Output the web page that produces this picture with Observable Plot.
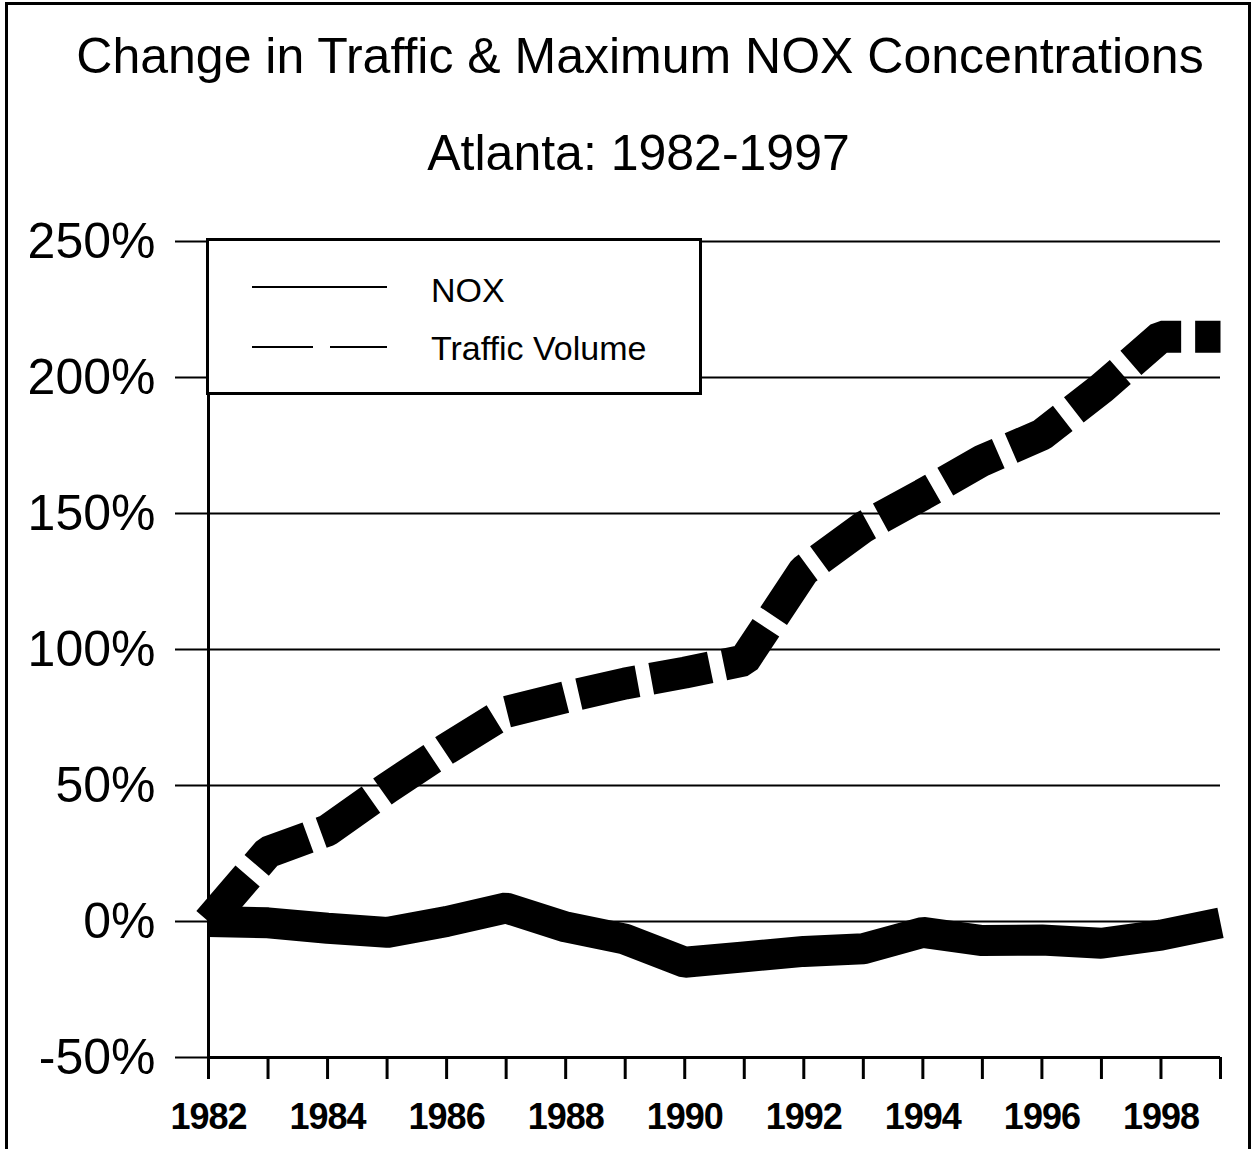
<!DOCTYPE html>
<html>
<head>
<meta charset="utf-8">
<script src="https://cdn.jsdelivr.net/npm/d3@7"></script>
<script src="https://cdn.jsdelivr.net/npm/@observablehq/plot@0.6"></script>
<style>
  html, body { margin: 0; padding: 0; background: white; }
  #wrap { position: relative; width: 1254px; height: 1149px; overflow: hidden; background: white;
          font-family: "Liberation Sans", Arial, sans-serif; color: black; }
  #frame { position: absolute; left: 5px; top: 2px; width: 1240px; height: 1200px;
           border-left: 3px solid black; border-top: 3px solid black; border-right: 3px solid black; }
  .ttl { position: absolute; left: 0; text-align: center; font-size: 50px; line-height: 50px; white-space: nowrap; }
  #chart { position: absolute; left: 0; top: 200px; }
  #legend { position: absolute; left: 206px; top: 238px; width: 490px; height: 151px;
            border: 3px solid black; background: white; }
</style>
</head>
<body>
<div id="wrap">
  <div class="ttl" style="top:31px; width:1280px;">Change in Traffic &amp; Maximum NOX Concentrations</div>
  <div class="ttl" style="top:128px; width:1277px;">Atlanta: 1982-1997</div>
  <div id="chart"></div>
  <div id="legend"></div>
  <div id="frame"></div>
</div>
<script>
// ---- data (percent change) ----
const years = [1982, 1983, 1984, 1985, 1986, 1987, 1988, 1989, 1990, 1991, 1992, 1993, 1994, 1995, 1996, 1997, 1998, 1999];
const noxPct = [0, -0.5, -2.5, -4, 0, 5, -2, -6.5, -15, -13, -11, -10, -4, -7, -6.8, -8, -5, -0.5];
const trafficPct = [0, 25.5, 33.5, 49, 63.5, 77, 82.5, 87.5, 91.5, 96, 129, 145, 157, 169.5, 179, 196, 215, 215];
const yTicks = [-50, 0, 50, 100, 150, 200, 250];
const gridValues = [0, 50, 100, 150, 200, 250];
const xLabelYears = [1982, 1984, 1986, 1988, 1990, 1992, 1994, 1996, 1998];
const seriesNames = ["NOX", "Traffic Volume"];

const noxRows = years.map((yr, i) => ({year: yr, value: noxPct[i]}));
const trafficRows = years.map((yr, i) => ({year: yr, value: trafficPct[i]}));

const chart = Plot.plot({
  width: 1254,
  height: 949,
  marginLeft: 208,
  marginRight: 34,
  marginTop: 41,
  marginBottom: 92,
  x: {domain: [1982, 1999]},
  y: {domain: [-50, 250]},
  style: {fontFamily: "'Liberation Sans', Arial, sans-serif", color: "black", background: "white", overflow: "visible"},
  marks: [
    Plot.ruleY(gridValues, {stroke: "black", strokeWidth: 2}),
    Plot.axisY({
      ticks: yTicks, tickSize: 33, tickPadding: 20, strokeWidth: 2,
      tickFormat: d => d + "%", fontSize: 50, label: null
    }),
    Plot.axisX({
      ticks: years, tickSize: 22, tickPadding: 24, strokeWidth: 3,
      tickFormat: d => xLabelYears.includes(d) ? String(d) : "",
      fontSize: 36, fontWeight: "bold", label: null
    }),
    Plot.ruleY([-50], {stroke: "black", strokeWidth: 3}),
    Plot.ruleX([1982], {stroke: "black", strokeWidth: 3}),
    Plot.line(trafficRows, {
      x: "year", y: "value", stroke: "black", strokeWidth: 32,
      strokeDasharray: "60,14", strokeLinecap: "butt", strokeLinejoin: "miter"
    }),
    Plot.line(noxRows, {
      x: "year", y: "value", stroke: "black", strokeWidth: 31,
      strokeLinecap: "butt", strokeLinejoin: "miter"
    })
  ]
});
chart.querySelectorAll("text").forEach(t => { if (t.closest("g[aria-label='x-axis tick label']")) t.style.letterSpacing = "-1px"; });
document.getElementById("chart").appendChild(chart);

// ---- legend ----
const ns = "http://www.w3.org/2000/svg";
const lg = document.createElementNS(ns, "svg");
lg.setAttribute("width", 490);
lg.setAttribute("height", 151);
lg.style.fontFamily = "'Liberation Sans', Arial, sans-serif";
const items = [
  {name: seriesNames[0], y: 46, dash: null, ty: 61},
  {name: seriesNames[1], y: 106, dash: "61,17", ty: 119}
];
items.forEach(it => {
  const l = document.createElementNS(ns, "line");
  l.setAttribute("x1", 43); l.setAttribute("x2", 178);
  l.setAttribute("y1", it.y); l.setAttribute("y2", it.y);
  l.setAttribute("stroke", "black"); l.setAttribute("stroke-width", 2);
  if (it.dash) l.setAttribute("stroke-dasharray", it.dash);
  lg.appendChild(l);
  const t = document.createElementNS(ns, "text");
  t.setAttribute("x", 222); t.setAttribute("y", it.ty);
  t.setAttribute("font-size", 34);
  t.textContent = it.name;
  lg.appendChild(t);
});
document.getElementById("legend").appendChild(lg);
</script>
</body>
</html>
